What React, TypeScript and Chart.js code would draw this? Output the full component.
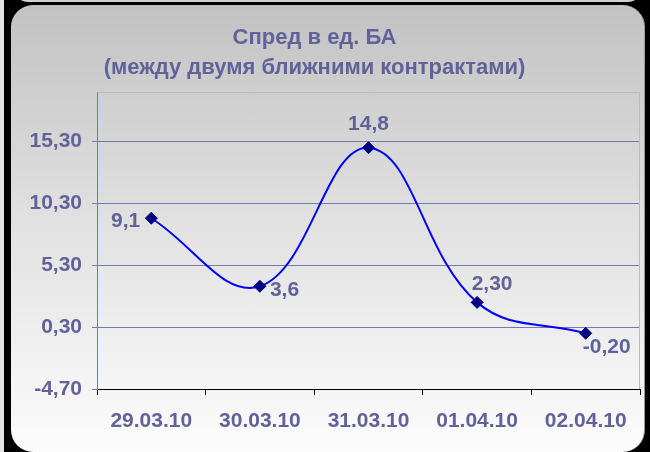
import React, { useEffect, useRef } from 'react';
import { Chart, registerables } from 'chart.js';

Chart.register(...registerables);

// ---- data ----
const categories = ['29.03.10', '30.03.10', '31.03.10', '01.04.10', '02.04.10'];
const spreadValues = [9.1, 3.6, 14.8, 2.3, -0.2];
const valueLabels = ['9,1', '3,6', '14,8', '2,30', '-0,20'];
const yTickValues = [-4.7, 0.3, 5.3, 10.3, 15.3];
const yMin = -4.7;
const yMax = 19.3;
const titleLines = ['Спред в ед. БА', '(между двумя ближними контрактами)'];
const labelPlacement = ['left', 'right', 'above', 'above-right', 'below-right'];

// ---- styles ----
const textColor = '#62629a';
const gridColor = '#7878aa';
const lineColor = '#0000ff';
const markerColor = '#000080';
const fontFamily = 'Arial, "Liberation Sans", sans-serif';

const fmtTick = (v: number) => v.toFixed(2).replace('.', ',');

const plotFramePlugin = {
  id: 'plotFrame',
  beforeDatasetsDraw(chart: any) {
    const { ctx, chartArea } = chart;
    ctx.save();
    ctx.strokeStyle = '#bcbcbc';
    ctx.lineWidth = 1;
    ctx.beginPath();
    ctx.moveTo(Math.round(chartArea.left) + 0.5, Math.round(chartArea.top) + 0.5);
    ctx.lineTo(Math.round(chartArea.right) - 0.5, Math.round(chartArea.top) + 0.5);
    ctx.lineTo(Math.round(chartArea.right) - 0.5, Math.round(chartArea.bottom));
    ctx.stroke();
    ctx.restore();
  },
};

const valueLabelPlugin = {
  id: 'valueLabels',
  afterDatasetsDraw(chart: any) {
    const { ctx } = chart;
    const meta = chart.getDatasetMeta(0);
    ctx.save();
    ctx.font = `bold 21px ${fontFamily}`;
    ctx.fillStyle = textColor;
    ctx.textBaseline = 'middle';
    meta.data.forEach((pt: any, i: number) => {
      const text = valueLabels[i];
      const p = labelPlacement[i];
      let x = pt.x;
      let y = pt.y;
      let align: CanvasTextAlign = 'center';
      if (p === 'left') { align = 'right'; x -= 11; y += 3; }
      else if (p === 'right') { align = 'left'; x += 10; y += 4; }
      else if (p === 'above') { y -= 23; }
      else if (p === 'above-right') { x += 15; y -= 18; }
      else if (p === 'below-right') { x += 21; y += 14; }
      ctx.textAlign = align;
      ctx.fillText(text, x, y);
    });
    ctx.restore();
  },
};

function SpreadChart() {
  const canvasRef = useRef<HTMLCanvasElement | null>(null);

  useEffect(() => {
    if (!canvasRef.current) return;
    const chart = new Chart(canvasRef.current, {
      type: 'line',
      data: {
        labels: categories,
        datasets: [
          {
            data: spreadValues,
            borderColor: lineColor,
            borderWidth: 2,
            tension: 0.4,
            pointStyle: 'rectRot',
            pointRadius: 6,
            pointBackgroundColor: markerColor,
            pointBorderColor: markerColor,
            pointBorderWidth: 1,
            fill: false,
          },
        ],
      },
      options: {
        animation: false,
        responsive: false,
        maintainAspectRatio: false,
        layout: { autoPadding: false, padding: { left: 0, right: 1, top: 0, bottom: 0 } },
        plugins: {
          legend: { display: false },
          tooltip: { enabled: false },
          title: {
            display: true,
            text: titleLines,
            color: textColor,
            font: { family: fontFamily, size: 22, weight: 'bold', lineHeight: 30 / 22 },
            padding: { top: 23, bottom: 9 },
          },
        },
        scales: {
          x: {
            type: 'category',
            offset: true,
            afterFit: (s: any) => { s.height = 63; s.paddingLeft = 0; s.paddingRight = 0; },
            grid: {
              display: true,
              drawOnChartArea: false,
              drawTicks: true,
              tickLength: 6,
              color: '#000000',
              offset: true,
            },
            border: { display: true, color: '#000000', width: 1 },
            ticks: {
              color: textColor,
              font: { family: fontFamily, size: 21, weight: 'bold' },
              padding: 14,
              maxRotation: 0,
              autoSkip: false,
            },
          },
          y: {
            type: 'linear',
            min: yMin,
            max: yMax,
            afterBuildTicks: (s: any) => { s.ticks = yTickValues.map((v) => ({ value: v })); },
            afterFit: (s: any) => { s.width = 108; },
            grid: {
              color: (c: any) => (c.tick && Math.abs(c.tick.value - yMin) < 1e-9 ? '#000000' : gridColor),
              tickColor: gridColor,
              tickLength: 5,
              lineWidth: 1,
            },
            border: { display: true, color: gridColor, width: 1 },
            ticks: {
              color: textColor,
              font: { family: fontFamily, size: 21, weight: 'bold' },
              padding: 10,
              callback: (v: any) => fmtTick(Number(v)),
            },
          },
        },
      },
      plugins: [plotFramePlugin, valueLabelPlugin],
    });
    return () => chart.destroy();
  }, []);

  return (
    <canvas
      ref={canvasRef}
      width={652}
      height={452}
      style={{ position: 'absolute', left: -11, top: 0, width: 652, height: 452 }}
    />
  );
}

export default function App() {
  return (
    <div
      style={{
        position: 'fixed',
        left: 0,
        top: 0,
        width: 650,
        height: 452,
        overflow: 'hidden',
        background: '#000000',
      }}
    >
      <div
        style={{
          position: 'absolute', left: -30, top: -30, width: 34, height: 520,
          background: '#e4e4e4', borderRadius: 14,
        }}
      />
      <div
        style={{
          position: 'absolute', left: 14, top: -30, width: 628, height: 32,
          background: '#d2d2d2', borderRadius: 14,
        }}
      />
      <div
        style={{
          position: 'absolute', left: 11, top: 5, width: 634, height: 447,
          borderRadius: 22,
          background: 'linear-gradient(to bottom, #c2c2c2 0%, #e2e2e2 50%, #fcfcfc 100%)',
          boxSizing: 'border-box',
          borderRight: '1px solid #9a9a9a',
        }}
      />
      <SpreadChart />
    </div>
  );
}
